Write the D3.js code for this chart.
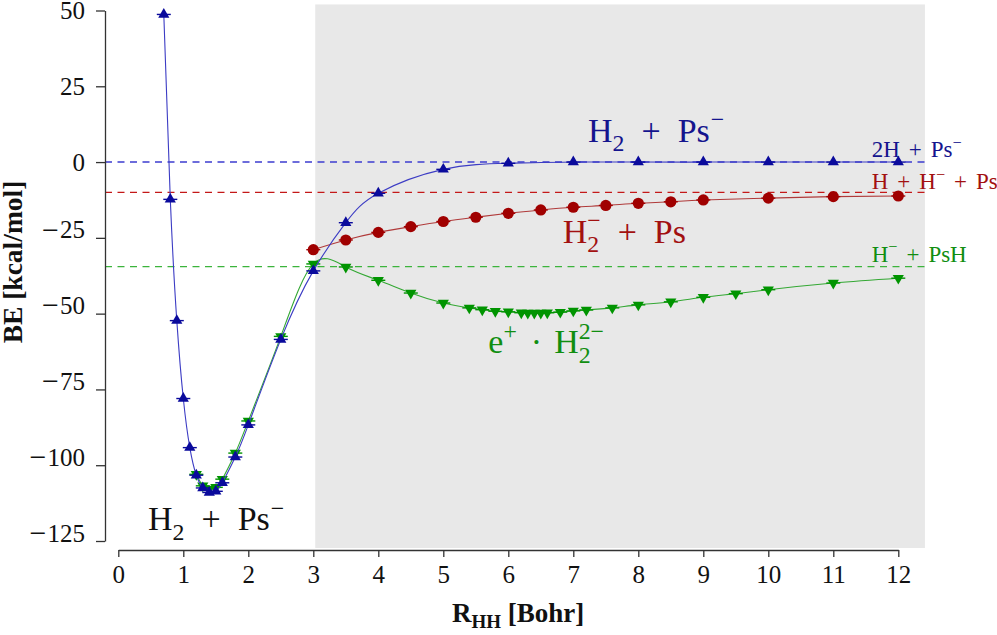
<!DOCTYPE html>
<html><head><meta charset="utf-8">
<script src="https://cdn.jsdelivr.net/npm/d3@7"></script>
<style>
body{margin:0;background:#fff}
</style>
</head><body>
<svg id="c" width="997" height="635"></svg>
<script>
// ---- data ----
const blueX = [0.7,0.8,0.9,1.0,1.1,1.2,1.3,1.4,1.5,1.6,1.8,2.0,2.5,3.0,3.5,4.0,5.0,6.0,7,8,9,10,11,12];
const blueY = [48.7,-12.3,-52.3,-78,-94.2,-103.3,-107.5,-109,-108.6,-105.8,-97.3,-86.7,-58.5,-35.9,-20,-10.3,-2.4,-0.4,0,0,0,0,0,0];
const redX = [3.0,3.5,4.0,4.5,5.0,5.5,6.0,6.5,7.0,7.5,8.0,8.5,9.0,10,11,12];
const redY = [-28.9,-25.7,-23.2,-21.3,-19.6,-18.2,-16.9,-15.8,-14.9,-14.3,-13.6,-13.1,-12.5,-11.9,-11.4,-11.2];
const greenX = [1.2,1.3,1.4,1.5,1.6,1.8,2.0,2.5,3.0,3.5,4.0,4.5,5.0,5.4,5.6,5.8,6.0,6.2,6.3,6.4,6.5,6.6,6.8,7.0,7.2,7.6,8.0,8.5,9.0,9.5,10,11,12];
const greenY = [-103,-106.8,-107.8,-107.3,-104.6,-96,-85.4,-57.5,-33.6,-34.6,-39,-43.2,-46.5,-48.1,-48.7,-49.2,-49.4,-49.7,-49.8,-49.8,-49.8,-49.7,-49.5,-49.1,-48.8,-48.1,-47.1,-46.1,-44.6,-43.4,-42.1,-39.9,-38.3];
const asymptotes = [0, -10, -34.5];          // blue, red, green dashed levels
const xTicks = [0,1,2,3,4,5,6,7,8,9,10,11,12];
const yTicks = [50,25,0,-25,-50,-75,-100,-125];
const shade = [3.03, 12.41];

const FONT = '"Liberation Serif", "Times New Roman", serif';

// ---- scales ----
const svg = d3.select("#c");
const x = d3.scaleLinear().domain([0,12]).range([118.3,898.3]);
const y = d3.scaleLinear().domain([-125,50]).range([541,10.5]);

const C = {
  blue:{mark:"#0a0a9c", line:"#3c3cc4", dash:"#3c3cd0", text:"#14148e"},
  red:{mark:"#a00000", line:"#b03a3a", dash:"#c41818", text:"#a21010"},
  green:{mark:"#009400", line:"#34a834", dash:"#3cb43c", text:"#108e10"}
};

// shaded region
svg.append("rect")
  .attr("x", x(shade[0])).attr("width", x(shade[1]) - x(shade[0]))
  .attr("y", y(52)).attr("height", y(-127.3) - y(52))
  .attr("fill", "#e8e8e8");

// dashed asymptotes
[["blue",asymptotes[0]],["red",asymptotes[1]],["green",asymptotes[2]]].forEach(([k,v])=>{
  svg.append("line").attr("x1",105).attr("x2",x(shade[1]))
    .attr("y1",y(v)).attr("y2",y(v))
    .attr("stroke",C[k].dash).attr("stroke-width",1.4).attr("stroke-dasharray","7,5.5");
});

// axes
const ya = svg.append("g").attr("transform","translate(105,0)")
  .call(d3.axisLeft(y).tickValues(yTicks).tickSize(9).tickSizeOuter(0).tickPadding(11));
const xa = svg.append("g").attr("transform","translate(0,550)")
  .call(d3.axisBottom(x).tickValues(xTicks).tickSize(7).tickSizeOuter(0).tickPadding(8));
[ya,xa].forEach(a=>{
  a.selectAll("path,line").attr("stroke","#333").attr("stroke-width",1.3);
  a.selectAll("text").attr("font-size",25).attr("fill","#111").style("font-family",FONT);
});
// long minus sign on negative y labels
ya.selectAll(".tick text").each(function(d){
  const t = d3.select(this);
  if (d < 0) {
    t.text(null);
    t.append("tspan").attr("font-size",30).attr("dy",1.2).text("\u2212");
    t.append("tspan").attr("dx",1).attr("dy",-1.2).text(Math.abs(d));
  }
});

// axis titles
const xt = svg.append("text").attr("x",452).attr("y",622).style("font-family",FONT)
  .attr("font-size",27).attr("font-weight","bold").attr("fill","#111");
xt.append("tspan").text("R");
xt.append("tspan").attr("font-size",19).attr("dy",6).text("HH");
xt.append("tspan").attr("dy",-6).text("\u00a0[Bohr]");
svg.append("text").attr("transform","translate(22,262) rotate(-90)").style("font-family",FONT)
  .attr("text-anchor","middle").attr("font-size",27.5).attr("font-weight","bold")
  .attr("fill","#111").text("BE [kcal/mol]");

// series
function series(xs, ys, key, shape){
  const pts = xs.map((d,i)=>[d, ys[i]]);
  const line = d3.line().x(d=>x(d[0])).y(d=>y(d[1])).curve(d3.curveNatural);
  svg.append("path").attr("d", line(pts)).attr("fill","none")
    .attr("stroke", C[key].line).attr("stroke-width", 1.1);
  const g = svg.append("g");
  pts.forEach(p=>{
    const cx = x(p[0]), cy = y(p[1]);
    g.append("line").attr("x1",cx-7).attr("x2",cx+7).attr("y1",cy).attr("y2",cy)
      .attr("stroke",C[key].mark).attr("stroke-width",1.4);
    if (shape === "circle") {
      g.append("circle").attr("cx",cx).attr("cy",cy).attr("r",5.6).attr("fill",C[key].mark);
    } else {
      g.append("path").attr("d", d3.symbol(d3.symbolTriangle, 54)())
        .attr("transform", `translate(${cx},${cy})` + (shape==="down" ? " rotate(180)" : ""))
        .attr("fill", C[key].mark);
    }
  });
}
series(greenX, greenY, "green", "down");
series(redX, redY, "red", "circle");
series(blueX, blueY, "blue", "up");

// rich labels: parts = [text, type, dx]
function rich(px, py, fs, color, parts){
  const t = svg.append("text").attr("x",px).attr("y",py).attr("font-size",fs)
    .style("font-family",FONT).attr("fill",color);
  let off = 0;
  parts.forEach(p=>{
    const [s, type, dx] = p;
    let sp;
    if (type === "sub" || type === "sup") {
      const target = type === "sub" ? 0.28*fs : -0.42*fs;
      sp = t.append("tspan").attr("font-size",0.7*fs).attr("dy",target-off).text(s);
      off = target;
    } else if (type === "subsup") {
      const a = t.append("tspan").attr("font-size",0.7*fs).attr("dy",0.28*fs-off).text(s[0]);
      if (dx) a.attr("dx",dx);
      const w = a.node().getComputedTextLength();
      t.append("tspan").attr("font-size",0.7*fs).attr("dx",-w).attr("dy",-0.42*fs-0.28*fs).text(s[1]);
      off = -0.42*fs;
      return;
    } else {
      sp = t.append("tspan").attr("dy",-off).text(s);
      off = 0;
    }
    if (dx) sp.attr("dx",dx);
  });
}
const big = 34, sm = 23;
rich(588, 141.7, big, C.blue.text, [["H"],["2","sub"],["+",null,17],["Ps",null,17],["\u2212","sup",1]]);
rich(148, 530, big, "#111", [["H"],["2","sub"],["+",null,17],["Ps",null,17],["\u2212","sup",1]]);
rich(562.7, 242.7, big, C.red.text, [["H"],[["2","\u2212"],"subsup"],["+",null,17],["Ps",null,17]]);
rich(488.3, 353.3, big, C.green.text, [["e"],["+","sup"],["\u00b7",null,14],["H",null,12],[["2","2\u2212"],"subsup"]]);
rich(871.7, 157.3, sm, C.blue.text, [["2H"],["+",null,9],["Ps",null,9],["\u2212","sup"]]);
rich(871.7, 189.3, sm, C.red.text, [["H"],["+",null,9],["H",null,9],["\u2212","sup"],["+",null,9],["Ps",null,9]]);
rich(871.7, 261.7, sm, C.green.text, [["H"],["\u2212","sup"],["+",null,9],["PsH",null,9]]);
</script>
</body></html>
